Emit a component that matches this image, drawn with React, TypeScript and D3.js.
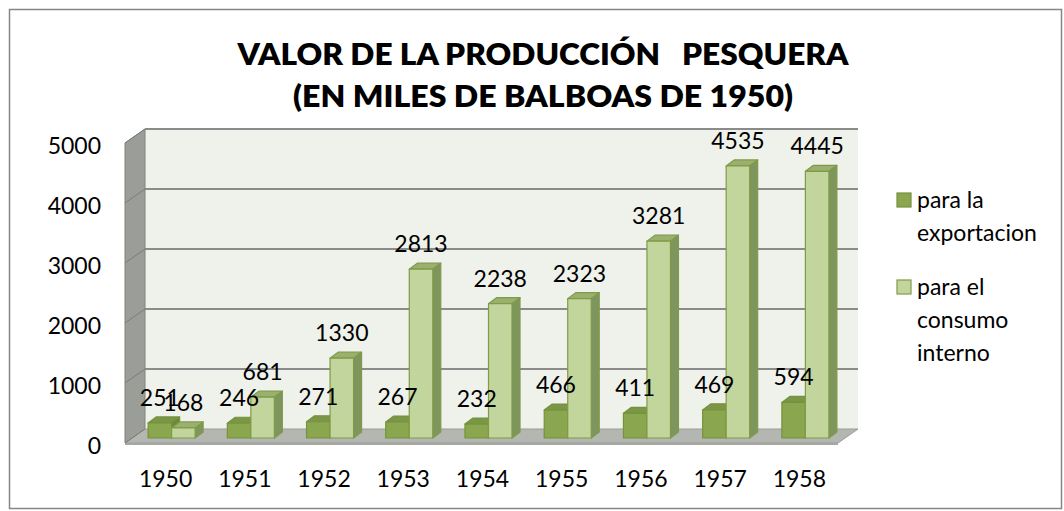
import React from 'react';
import * as d3 from 'd3';

const years = ['1950', '1951', '1952', '1953', '1954', '1955', '1956', '1957', '1958'];
const exportacion = [251, 246, 271, 267, 232, 466, 411, 469, 594];
const consumo = [168, 681, 1330, 2813, 2238, 2323, 3281, 4535, 4445];
const yTicks = [0, 1000, 2000, 3000, 4000, 5000];
const legendNames = [['para la', 'exportacion'], ['para el', 'consumo', 'interno']];
const titleLines = ['VALOR DE LA PRODUCCIÓN   PESQUERA', '(EN MILES DE BALBOAS DE 1950)'];

const W = 1064;
const H = 511;
const FONT = 'Lato, "Open Sans", sans-serif';
const FS = 23;

// 3d offsets
const DX = 20;
const DY = 14;
const BX = 7; // bar front plane shift
const BY = 5;
const BDX = 8; // bar depth
const BDY = 6;

const palette = [
  { front: '#8aa64f', top: '#7b9646', side: '#6c863d', stroke: '#76923c' },
  { front: '#c2d59d', top: '#9bb06f', side: '#7f955e', stroke: '#7f9b47' },
];

const App = () => {
  const x = d3.scaleBand().domain(years).range([125, 838]);
  const inner = d3.scaleBand().domain(['exp', 'con']).range([0, x.bandwidth()]).paddingOuter(0.685);
  const y = d3.scaleLinear().domain([0, 5000]).range([443, 143]);

  const backL = 125 + DX;
  const backR = 838 + DX;
  const series = [exportacion, consumo];
  const keys = ['exp', 'con'];

  const bars: { key: string; i: number; s: number; v: number; x0: number; x1: number; yT: number; yB: number }[] = [];
  years.forEach((yr, i) => {
    series.forEach((vals, s) => {
      const x0 = (x(yr) as number) + (inner(keys[s]) as number) + BX;
      const x1 = x0 + inner.bandwidth();
      bars.push({ key: yr, i, s, v: vals[i], x0, x1, yT: y(vals[i]) - BY, yB: y(0) - BY });
    });
  });

  const pts = (arr: number[][]) => arr.map(p => p.join(',')).join(' ');

  return (
    <svg width={W} height={H} style={{ position: 'absolute', left: 0, top: 0, background: '#fff' }}>
      <rect x={9.5} y={9.5} width={1052} height={499} fill="#fff" stroke="#868686" strokeWidth={1.5} />

      {titleLines.map((t, k) => (
        <text key={t} x={543} y={k === 0 ? 65 : 107} textAnchor="middle" fontFamily={FONT}
          fontWeight={800} fontSize={30} fill="#000" style={{ whiteSpace: 'pre' }}
          textLength={k === 0 ? 611 : 500} lengthAdjust="spacingAndGlyphs">{t}</text>
      ))}

      {/* back wall */}
      <rect x={backL} y={y(5000) - DY} width={backR - backL} height={y(0) - y(5000)} fill="#eff1eb" />
      {/* side wall */}
      <polygon points={pts([[125, y(5000)], [backL, y(5000) - DY], [backL, y(0) - DY], [125, y(0)]])}
        fill="#9a9d98" stroke="#80837e" strokeWidth={1} />
      {/* floor */}
      <polygon points={pts([[125, y(0)], [backL, y(0) - DY], [backR, y(0) - DY], [838, y(0)]])}
        fill="#b4b6b2" stroke="#9a9c98" strokeWidth={1} />
      <line x1={125} x2={838} y1={y(0) + 1} y2={y(0) + 1} stroke="#a5a7a3" strokeWidth={2} />

      {/* gridlines */}
      {yTicks.map(t => (
        <g key={t}>
          {t > 0 && <line x1={backL} x2={backR} y1={y(t) - DY} y2={y(t) - DY} stroke="#8b8b8b" strokeWidth={2} />}
          <line x1={125} x2={backL} y1={y(t)} y2={y(t) - DY} stroke="#7a7c78" strokeWidth={1} />
        </g>
      ))}

      {/* bars */}
      {bars.map(b => {
        const c = palette[b.s];
        return (
          <g key={b.key + b.s} strokeWidth={1.2} stroke={c.stroke} strokeLinejoin="round">
            <polygon points={pts([[b.x0, b.yT], [b.x0 + BDX, b.yT - BDY], [b.x1 + BDX, b.yT - BDY], [b.x1, b.yT]])} fill={c.top} />
            <polygon points={pts([[b.x1, b.yT], [b.x1 + BDX, b.yT - BDY], [b.x1 + BDX, b.yB - BDY], [b.x1, b.yB]])} fill={c.side} />
            <rect x={b.x0} y={b.yT} width={b.x1 - b.x0} height={b.yB - b.yT} fill={c.front} />
          </g>
        );
      })}

      {/* data labels */}
      {bars.map(b => (
        <text key={'l' + b.key + b.s} x={(b.x0 + b.x1) / 2} y={b.yT - 17} textAnchor="middle"
          fontFamily={FONT} fontSize={FS} fill="#000">{b.v}</text>
      ))}

      {/* y axis labels */}
      {yTicks.map(t => (
        <text key={'y' + t} x={101} y={y(t) + 11} textAnchor="end" fontFamily={FONT} fontSize={FS} fill="#000">{t}</text>
      ))}

      {/* x axis labels */}
      {years.map(yr => (
        <text key={'x' + yr} x={(x(yr) as number) + x.bandwidth() / 2 + 1} y={487} textAnchor="middle"
          fontFamily={FONT} fontSize={FS} fill="#000">{yr}</text>
      ))}

      {/* legend */}
      {legendNames.map((lines, s) => {
        const top = s === 0 ? 200 : 287;
        return (
          <g key={'leg' + s}>
            <rect x={897} y={top - 7} width={14} height={14} fill={palette[s].front} stroke={palette[s].stroke} strokeWidth={1.2} />
            {lines.map((ln, k) => (
              <text key={ln} x={917} y={top + 8 + k * 33} fontFamily={FONT} fontSize={FS} fill="#000">{ln}</text>
            ))}
          </g>
        );
      })}
    </svg>
  );
};

export default App;
